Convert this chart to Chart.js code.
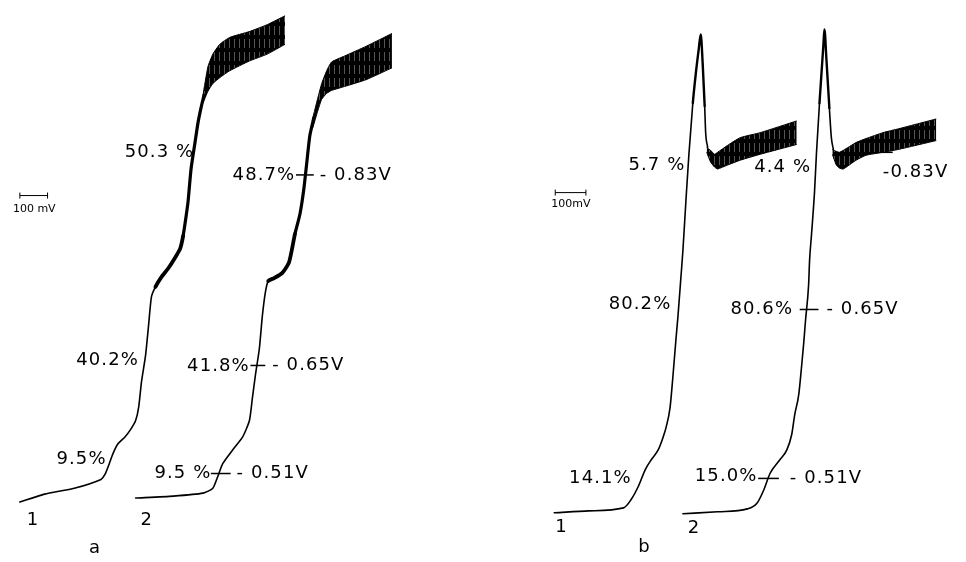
<!DOCTYPE html>
<html>
<head>
<meta charset="utf-8">
<script src="https://cdn.jsdelivr.net/npm/chart.js@4.4.1/dist/chart.umd.min.js"></script>
<style>
html,body{margin:0;padding:0;background:#fff;}
#wrap{width:966px;height:562px;position:relative;}
</style>
</head>
<body>
<div id="wrap"><canvas id="c"></canvas></div>
<script>
// ---- traces (x = potential axis units, y = current axis units, as read from the record) ----
const a1Trace = [[15,506],[40,498],[70,492],[97,483],[101,478],[105,468],[109,457],[114,447],[121,440],[127,432],[132,423],[135,410],[138,383],[142,357],[145,327],[148,297],[152,287],[158,277],[165,268],[172,257],[177,248],[180,235],[183,215],[185,200],[188,167],[192,140],[195,120],[198,105],[201,92]];
const a1BandX = [200,205,210,217,227,247,265,283];
const a1BandTop = [92,63,50,40,33,27,20,11];
const a1BandBottom = [100,88,80,74,67,57,50,40];

const a2Trace = [[132,502],[170,500],[200,497],[210,492],[215,480],[220,467],[230,453],[240,440],[247,423],[250,400],[253,377],[257,350],[260,317],[263,293],[266,281],[272,278],[280,273],[287,262],[293,233],[298,213],[302,187],[305,160],[308,133],[312,115]];
const a2BandX = [311,316,320,325,330,343,365,391];
const a2BandTop = [115,95,80,67,58,52,42,29];
const a2BandBottom = [125,108,96,90,87,83,76,64];

const b1Trace = [[555,517],[590,515],[625,512],[633,503],[640,490],[647,473],[653,463],[660,453],[665,440],[668,430],[672,410],[675,377],[678,340],[680,317],[683,277],[685,250],[688,200],[691,153],[695,100],[698,70],[701,45],[703,30],[705,60],[707,103],[708,130],[710,145]];
const b1BandX = [709,713,717,720,730,743,763,800];
const b1BandTop = [145,148,152,150,143,135,130,118];
const b1BandBottom = [150,160,165,167,163,158,152,142];

const b2Trace = [[685,518],[720,516],[750,513],[760,507],[767,493],[773,477],[783,463],[790,453],[795,437],[798,417],[802,397],[805,367],[807,345],[809,320],[812,285],[813,260],[815,233],[818,190],[820,150],[823,100],[825,70],[827,40],[828,25],[830,55],[833,105],[835,135],[837,147]];
const b2BandX = [836,840,843,847,860,870,887,903,941];
const b2BandTop = [147,149,150,148,140,136,130,126,116];
const b2BandBottom = [152,163,166,167,158,153,150,147,138];

// ---- potential marks (-0.51 V, -0.65 V, -0.83 V) ----
const markA = [[[208,477],[228,477]],[[248,367],[263,367]],[[294,173],[312,173]]];
const markB = [[[761,482],[782,482]],[[803,310],[822,310]],[[877,150],[897,150]]];

// ---- 100 mV scale bars ----
const scaleBarA = [[15,194],[43,194]];
const scaleBarB = [[556,191],[587,191]];

// ---- labels ----
const labelText = ["50.3 %","48.7%","- 0.83V","40.2%","41.8%","- 0.65V","9.5%","9.5 %","- 0.51V","1","2","a",
                   "5.7 %","4.4 %","-0.83V","80.2%","80.6%","- 0.65V","14.1%","15.0%","- 0.51V","1","2","b"];
const labelX = [121,230,318,72,184,270,52,151,234,22,137,85,
                630,757,887,610,733,830,570,697,793,556,690,640];
const labelY = [150,173,173,362,368,367,463,477,477,525,525,553,
                163,165,170,305,310,310,482,480,482,532,533,552];
const smallText = ["100 mV","100mV"];
const smallX = [8,552];
const smallY = [208,203];

const toXY = arr => arr.map(p => ({x:p[0], y:p[1]}));
const zipBand = (xs, ys) => xs.map((x,i) => ({x:x, y:ys[i]}));

const ctxEl = document.getElementById('c');

// vertical streak pattern to suggest the oscillation band
const pc = document.createElement('canvas');
pc.width = 5; pc.height = 13;
const pctx = pc.getContext('2d');
pctx.fillStyle = '#000'; pctx.fillRect(0,0,5,13);
pctx.fillStyle = '#555'; pctx.fillRect(4,0,1,9);
const hatch = pctx.createPattern(pc,'repeat');

function traceDS(data, panel){
  return {
    data: toXY(data), borderColor:'#000', borderWidth:1.6, pointRadius:0, fill:false,
    tension: panel==='a' ? 0.2 : 0.3,
    cubicInterpolationMode: panel==='a' ? 'default' : 'monotone',
    borderJoinStyle:'round', borderCapStyle:'round',
    segment:{
      borderWidth: c => {
        const y = Math.max(c.p0.parsed.y, c.p1.parsed.y);
        if(panel==='a'){
          if(y <= 240) return 3.2;
          if(y <= 292) return 3.8;
          return 1.6;
        } else {
          if(y <= 110) return 2.4;
          return 1.6;
        }
      }
    }
  };
}
function bandDS(xs, top, bottom){
  return [
    {data: zipBand(xs, top), borderColor:'#000', borderWidth:1, pointRadius:0, fill:false, tension:0.15},
    {data: zipBand(xs, bottom), borderColor:'#000', borderWidth:1, pointRadius:0, fill:'-1', backgroundColor:hatch, tension:0.15}
  ];
}
function segDS(seg, w){
  return {data: toXY(seg), borderColor:'#000', borderWidth:w, pointRadius:0, fill:false};
}
function barDS(seg){
  return {data: toXY(seg), borderColor:'#000', borderWidth:1, pointRadius:3, pointStyle:'line', rotation:90,
          pointBorderColor:'#000', pointBorderWidth:1, fill:false};
}

const datasets = [
  traceDS(a1Trace,'a'), ...bandDS(a1BandX,a1BandTop,a1BandBottom),
  traceDS(a2Trace,'a'), ...bandDS(a2BandX,a2BandTop,a2BandBottom),
  traceDS(b1Trace,'b'), ...bandDS(b1BandX,b1BandTop,b1BandBottom),
  traceDS(b2Trace,'b'), ...bandDS(b2BandX,b2BandTop,b2BandBottom),
  ...markA.map(s => segDS(s,1.5)), ...markB.map(s => segDS(s,1.5)),
  barDS(scaleBarA), barDS(scaleBarB)
];

const labelPlugin = {
  id:'labels',
  afterDatasetsDraw(chart){
    const {ctx, scales:{x, y}} = chart;
    ctx.save();
    ctx.fillStyle = '#000';
    ctx.textAlign = 'left';
    ctx.textBaseline = 'middle';
    ctx.font = '18px "DejaVu Sans"';
    if ('letterSpacing' in ctx) ctx.letterSpacing = '1.1px';
    labelText.forEach((t,i) => ctx.fillText(t, x.getPixelForValue(labelX[i]), y.getPixelForValue(labelY[i])));
    ctx.font = '11px "DejaVu Sans"';
    if ('letterSpacing' in ctx) ctx.letterSpacing = '0px';
    smallText.forEach((t,i) => ctx.fillText(t, x.getPixelForValue(smallX[i]), y.getPixelForValue(smallY[i])));
    ctx.restore();
  }
};

new Chart(ctxEl, {
  type:'line',
  data:{datasets},
  options:{
    responsive:true, maintainAspectRatio:false, animation:false,
    layout:{padding:0},
    plugins:{legend:{display:false}, tooltip:{enabled:false}, filler:{propagate:false}},
    scales:{
      x:{type:'linear', min:0, max:966, display:false},
      y:{type:'linear', min:0, max:562, reverse:true, display:false}
    }
  },
  plugins:[labelPlugin]
});
</script>
</body>
</html>
